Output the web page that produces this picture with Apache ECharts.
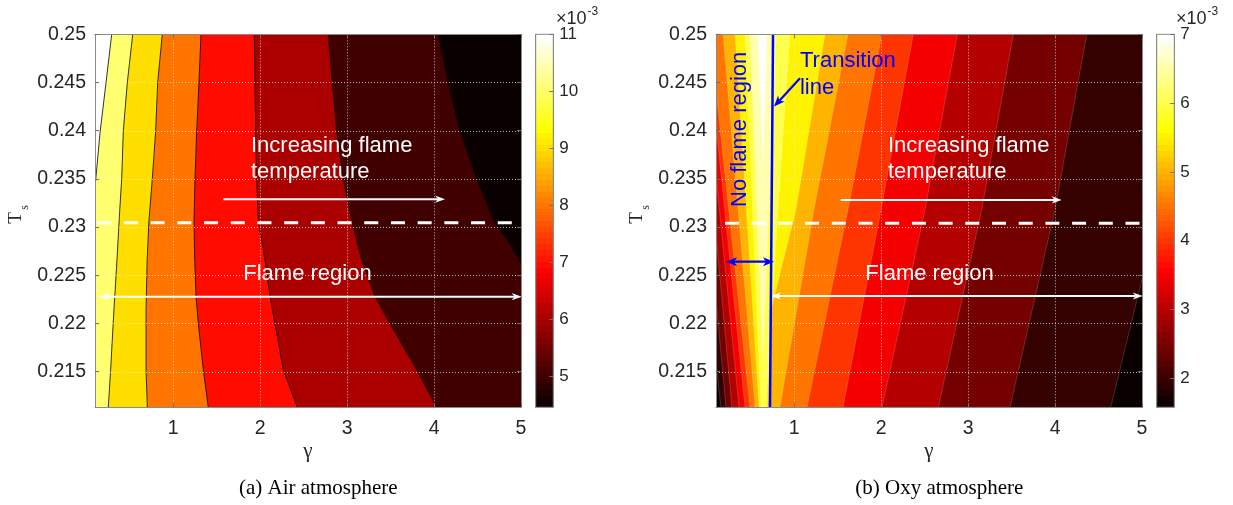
<!DOCTYPE html>
<html>
<head>
<meta charset="utf-8">
<title>Flame temperature contours</title>
<script src="https://cdn.jsdelivr.net/npm/echarts@6.0.0/dist/echarts.min.js"></script>
<style>
html,body{margin:0;padding:0;background:#ffffff;}
#chart{width:1233px;height:505px;}
</style>
</head>
<body>
<div id="chart"></div>
<script>
// ---------------- axes ----------------
const gammaRange = [0.1, 5];
const tsRange = [0.2113, 0.25];
const gammaTicks = [1, 2, 3, 4, 5];
const tsTicks = [0.215, 0.22, 0.225, 0.23, 0.235, 0.24, 0.245, 0.25];

// ---------------- (a) Air atmosphere ----------------
const airClim = [4.46, 11.0];
const airCbTicks = [5, 6, 7, 8, 9, 10, 11];
const airLevels = [5, 6, 7, 8, 9, 10, 11];
// contour lines [gamma, Ts], from top edge downwards
const airContour5 = [[4.049,0.25],[4.164,0.245],[4.298,0.24],[4.49,0.235],[4.69,0.2306],[4.873,0.2283],[5.0,0.2262],[5.05,0.2256]];
const airContour6 = [[2.783,0.25],[2.83,0.245],[2.88,0.24],[2.956,0.235],[3.053,0.2306],[3.168,0.2266],[3.321,0.2228],[3.493,0.22],[3.8,0.2152],[4.03,0.2113]];
const airContour7 = [[1.932,0.25],[1.94,0.245],[1.948,0.24],[1.96,0.235],[1.978,0.2306],[2.02,0.2285],[2.055,0.2266],[2.113,0.2228],[2.17,0.22],[2.266,0.2152],[2.427,0.2113]];
const airContour8 = [[1.319,0.25],[1.296,0.245],[1.27,0.24],[1.25,0.235],[1.239,0.2306],[1.247,0.2266],[1.262,0.2228],[1.288,0.22],[1.346,0.2152],[1.403,0.2113]];
const airContour9 = [[0.874,0.25],[0.821,0.245],[0.798,0.24],[0.759,0.235],[0.72,0.2306],[0.70,0.2266],[0.687,0.2214],[0.687,0.2152],[0.702,0.2113]];
const airContour10 = [[0.534,0.25],[0.472,0.245],[0.426,0.24],[0.407,0.235],[0.385,0.2318],[0.353,0.2266],[0.318,0.2214],[0.28,0.2152],[0.253,0.2113]];
const airContour11 = [[0.292,0.25],[0.227,0.245],[0.158,0.2398],[0.10,0.2341],[0.09,0.2335]];
const airContours = [airContour5, airContour6, airContour7, airContour8, airContour9, airContour10, airContour11];

// ---------------- (b) Oxy atmosphere ----------------
const oxyClim = [1.58, 7.0];
const oxyCbTicks = [2, 3, 4, 5, 6, 7];
const oxyLevels = [2.0, 2.5, 3.0, 3.5, 4.0, 4.5, 5.0, 5.5, 6.0, 6.5, 7.0];
// regions where the value exceeds each level [gamma, Ts]
const oxyRegion20 = [[-0.35,0.25],[0.158,0.2113],[4.64,0.2113],[5.69,0.25]];
const oxyRegion25 = [[-0.188,0.25],[0.215,0.2113],[3.482,0.2113],[3.999,0.2318],[4.364,0.25]];
const oxyRegion30 = [[-0.114,0.25],[0.284,0.2113],[2.657,0.2113],[3.156,0.2318],[3.52,0.25]];
const oxyRegion35 = [[-0.061,0.25],[0.365,0.2113],[2.009,0.2113],[2.504,0.2318],[2.875,0.25]];
const oxyRegion40 = [[-0.007,0.25],[0.434,0.2113],[1.561,0.2113],[1.998,0.2318],[2.369,0.25]];
const oxyRegion45 = [[0.031,0.25],[0.491,0.2113],[1.147,0.2113],[1.618,0.2318],[2.009,0.25]];
const oxyRegion50 = [[0.181,0.25],[0.549,0.2113],[0.836,0.2113],[1.227,0.2318],[1.618,0.25]];
const oxyRegion55 = [[0.319,0.25],[0.595,0.2113],[0.698,0.2113],[0.733,0.2214],[1.02,0.2318],[1.354,0.25]];
const oxyRegion60 = [[0.434,0.25],[0.618,0.2113],[0.675,0.2113],[0.813,0.2318],[0.951,0.25]];
const oxyRegion65 = [[0.491,0.25],[0.641,0.2164],[0.79,0.25]];
const oxyRegion70 = [[0.583,0.25],[0.641,0.2366],[0.687,0.25]];
const oxyRegions = [oxyRegion20, oxyRegion25, oxyRegion30, oxyRegion35, oxyRegion40, oxyRegion45, oxyRegion50, oxyRegion55, oxyRegion60, oxyRegion65, oxyRegion70];
const oxyTransitionLine = [[0.756,0.25],[0.721,0.2113]];

// ---------------- helpers ----------------
const SANS = '"Liberation Sans", Arial, Helvetica, sans-serif';
const SERIF = '"Liberation Serif", "Times New Roman", serif';

function hotIdxColor(i) {
  const r = Math.min(1, i / 24);
  const g = Math.max(0, Math.min(1, (i - 24) / 24));
  const b = Math.max(0, Math.min(1, (i - 48) / 16));
  return 'rgb(' + Math.round(r * 255) + ',' + Math.round(g * 255) + ',' + Math.round(b * 255) + ')';
}
function hotColor(v, clim) {
  const t = (v - clim[0]) / (clim[1] - clim[0]);
  const i = Math.max(1, Math.min(64, Math.floor(t * 64 + 1e-9) + 1));
  return hotIdxColor(i);
}
function hotGradientStops() {
  const stops = [];
  for (let i = 1; i <= 64; i++) {
    const c = hotIdxColor(i);
    stops.push({offset: (i - 1) / 64, color: c});
    stops.push({offset: i / 64, color: c});
  }
  return stops;
}
const LO = tsRange[0] - 0.01, HI = tsRange[1] + 0.01, XL = gammaRange[0] - 1, XR = gammaRange[1] + 1;
const basePoly = [[XL, LO], [XR, LO], [XR, HI], [XL, HI]];
function closeLeft(line) {
  const first = line[0], last = line[line.length - 1];
  return line.concat([[last[0], LO], [XL, LO], [XL, HI], [first[0], HI]]);
}

function fillSeries(xi, yi, polys, colors, stroke, lw) {
  return {
    type: 'custom', xAxisIndex: xi, yAxisIndex: yi, clip: true, silent: true, z: 2,
    data: polys.map(() => [gammaRange[0], tsRange[0]]),
    renderItem: (params, api) => {
      const pts = polys[params.dataIndex].map(p => api.coord(p));
      const style = {fill: colors[params.dataIndex]};
      if (stroke) { style.stroke = stroke; style.lineWidth = lw; } else { style.stroke = colors[params.dataIndex]; style.lineWidth = 0.3; }
      return {type: 'polygon', shape: {points: pts}, style: style};
    }
  };
}
function lineSeries(xi, yi, lines, color, lw) {
  return {
    type: 'custom', xAxisIndex: xi, yAxisIndex: yi, clip: true, silent: true, z: 3,
    data: lines.map(() => [gammaRange[0], tsRange[0]]),
    renderItem: (params, api) => ({
      type: 'polyline',
      shape: {points: lines[params.dataIndex].map(p => api.coord(p))},
      style: {stroke: color, lineWidth: lw, fill: 'none'}
    })
  };
}
function gridSeries(xi, yi) {
  return {
    type: 'custom', xAxisIndex: xi, yAxisIndex: yi, clip: true, silent: true, z: 3,
    data: [[gammaRange[0], tsRange[0]]],
    renderItem: (params, api) => {
      const ch = [];
      const st = {stroke: 'rgba(235,235,235,0.75)', lineWidth: 1, lineDash: [1, 2], fill: 'none'};
      gammaTicks.forEach(g => {
        const a = api.coord([g, tsRange[0]]), b = api.coord([g, tsRange[1]]);
        ch.push({type: 'line', shape: {x1: Math.round(a[0]) + 0.5, y1: a[1], x2: Math.round(b[0]) + 0.5, y2: b[1]}, style: st});
      });
      tsTicks.forEach(t => {
        const a = api.coord([gammaRange[0], t]), b = api.coord([gammaRange[1], t]);
        ch.push({type: 'line', shape: {x1: a[0], y1: Math.round(a[1]) + 0.5, x2: b[0], y2: Math.round(b[1]) + 0.5}, style: st});
      });
      return {type: 'group', children: ch};
    }
  };
}
function colorbarSeries(xi, yi, clim) {
  return {
    type: 'custom', xAxisIndex: xi, yAxisIndex: yi, silent: true, z: 2,
    data: [[0, clim[0]]],
    renderItem: (params, api) => {
      const p1 = api.coord([0, clim[0]]), p2 = api.coord([1, clim[1]]);
      return {
        type: 'rect',
        shape: {x: p1[0], y: p2[1], width: p2[0] - p1[0], height: p1[1] - p2[1]},
        style: {fill: {type: 'linear', x: 0, y: 1, x2: 0, y2: 0, colorStops: hotGradientStops()}, stroke: '#8a8a8a', lineWidth: 1}
      };
    }
  };
}
function arrow(api, a, b, o) {
  const p0 = api.coord(a), p1 = api.coord(b);
  const dx = p1[0] - p0[0], dy = p1[1] - p0[1], len = Math.hypot(dx, dy);
  const ux = dx / len, uy = dy / len, nx = -uy, ny = ux;
  const back = o.L - o.N;
  const s = o.both ? [p0[0] + ux * back, p0[1] + uy * back] : p0;
  const e = [p1[0] - ux * back, p1[1] - uy * back];
  const head = (t, vx, vy) => ({
    type: 'polygon',
    shape: {points: [
      [t[0], t[1]],
      [t[0] - vx * o.L + nx * o.W, t[1] - vy * o.L + ny * o.W],
      [t[0] - vx * (o.L - o.N), t[1] - vy * (o.L - o.N)],
      [t[0] - vx * o.L - nx * o.W, t[1] - vy * o.L - ny * o.W]
    ]},
    style: {fill: o.color}
  });
  const els = [{type: 'line', shape: {x1: s[0], y1: s[1], x2: e[0], y2: e[1]}, style: {stroke: o.color, lineWidth: o.width, fill: 'none'}}];
  els.push(head(p1, ux, uy));
  if (o.both) els.push(head(p0, -ux, -uy));
  return els;
}
function label(api, at, text, align, color, extra) {
  const p = api.coord(at);
  return Object.assign({
    type: 'text', x: p[0], y: p[1],
    style: {text: text, fill: color, fontSize: 22, fontFamily: SANS, align: align, verticalAlign: 'middle'}
  }, extra || {});
}
function dashed(api, a, b) {
  const p0 = api.coord(a), p1 = api.coord(b);
  return {type: 'line', shape: {x1: p0[0], y1: p0[1], x2: p1[0], y2: p1[1]}, style: {stroke: '#ffffff', lineWidth: 3, lineDash: [14, 12.7], fill: 'none'}};
}
function noteSeries(xi, yi, build) {
  return {
    type: 'custom', xAxisIndex: xi, yAxisIndex: yi, clip: false, silent: true, z: 4,
    data: [[gammaRange[0], tsRange[0]]],
    renderItem: (params, api) => ({type: 'group', children: build(api)})
  };
}
const whiteArrow = {color: '#ffffff', width: 2, L: 10, W: 3.6, N: 3};
const blueArrow = {color: '#0000ff', width: 2.2, L: 11, W: 4.5, N: 3};

// ---------------- axes ----------------
const AXC = '#8a8a8a';
const TXT = '#262626';
const tsFmt = v => String(parseFloat(Number(v).toFixed(4)));
function xAx(grid, pos, labels) {
  return {
    gridIndex: grid, type: 'value', position: pos, min: gammaRange[0], max: gammaRange[1], z: 6,
    axisLine: {show: true, onZero: false, lineStyle: {color: AXC, width: 1}},
    axisTick: {show: true, inside: true, length: 4, customValues: gammaTicks, lineStyle: {color: '#707070'}},
    axisLabel: {show: labels, customValues: gammaTicks, margin: 11, fontSize: 19.5, fontFamily: SANS, color: TXT},
    splitLine: {show: false}
  };
}
function yAx(grid, pos, labels) {
  return {
    gridIndex: grid, type: 'value', position: pos, min: tsRange[0], max: tsRange[1], z: 6,
    axisLine: {show: true, onZero: false, lineStyle: {color: AXC, width: 1}},
    axisTick: {show: true, inside: true, length: 4, customValues: tsTicks, lineStyle: {color: '#707070'}},
    axisLabel: {show: labels, customValues: tsTicks, margin: 9, fontSize: 19.5, fontFamily: SANS, color: TXT, formatter: tsFmt},
    splitLine: {show: false}
  };
}
function cbY(grid, clim, ticks, pos, labels) {
  return {
    gridIndex: grid, type: 'value', position: pos, min: clim[0], max: clim[1], z: 6,
    axisLine: {show: true, onZero: false, lineStyle: {color: AXC, width: 1}},
    axisTick: {show: labels, inside: true, length: 4, customValues: ticks, lineStyle: {color: '#707070'}},
    axisLabel: {show: labels, customValues: ticks, margin: 6, fontSize: 17, fontFamily: SANS, color: TXT},
    splitLine: {show: false}
  };
}
function hiddenX(grid) {
  return {gridIndex: grid, type: 'value', min: 0, max: 1, show: false};
}

const airPolys = [basePoly].concat(airContours.map(closeLeft));
const airColors = [hotColor(airClim[0], airClim)].concat(airLevels.map(v => hotColor(v, airClim)));
const oxyPolys = [basePoly].concat(oxyRegions);
const oxyColors = [hotColor(oxyClim[0], oxyClim)].concat(oxyLevels.map(v => hotColor(v, oxyClim)));

const PT = 34.3, PH = 373;
const option = {
  animation: false,
  backgroundColor: '#ffffff',
  grid: [
    {left: 95, top: PT, width: 426, height: PH},
    {left: 716, top: PT, width: 426, height: PH},
    {left: 535.7, top: PT, width: 17.6, height: PH},
    {left: 1156.7, top: PT, width: 17.6, height: PH}
  ],
  xAxis: [xAx(0, 'bottom', true), xAx(0, 'top', false), xAx(1, 'bottom', true), xAx(1, 'top', false), hiddenX(2), hiddenX(3)],
  yAxis: [
    yAx(0, 'left', true), yAx(0, 'right', false), yAx(1, 'left', true), yAx(1, 'right', false),
    cbY(2, airClim, airCbTicks, 'right', true), cbY(2, airClim, airCbTicks, 'left', false),
    cbY(3, oxyClim, oxyCbTicks, 'right', true), cbY(3, oxyClim, oxyCbTicks, 'left', false)
  ],
  series: [
    fillSeries(0, 0, airPolys, airColors, null, 0),
    lineSeries(0, 0, airContours, '#000000', 0.8),
    gridSeries(0, 0),
    noteSeries(0, 0, api => [].concat(
      [dashed(api, [0.126, 0.23046], [5.0, 0.23046])],
      [label(api, [1.894, 0.23843], 'Increasing flame', 'left', '#ffffff'),
       label(api, [1.894, 0.23568], 'temperature', 'left', '#ffffff')],
      arrow(api, [1.576, 0.23289], [4.126, 0.23289], Object.assign({both: false}, whiteArrow)),
      [label(api, [2.544, 0.22514], 'Flame region', 'center', '#ffffff')],
      arrow(api, [0.149, 0.22278], [5.008, 0.22278], Object.assign({both: true}, whiteArrow))
    )),
    fillSeries(2, 2, oxyPolys, oxyColors, 'rgba(255,255,255,0.28)', 0.6),
    gridSeries(2, 2),
    noteSeries(2, 2, api => [].concat(
      [dashed(api, [0.2035, 0.2304], [5.0, 0.2304])],
      [label(api, [2.078, 0.23843], 'Increasing flame', 'left', '#ffffff'),
       label(api, [2.078, 0.23568], 'temperature', 'left', '#ffffff')],
      arrow(api, [1.534, 0.23282], [4.076, 0.23282], Object.assign({both: false}, whiteArrow)),
      [label(api, [2.556, 0.22514], 'Flame region', 'center', '#ffffff')],
      arrow(api, [0.729, 0.22285], [5.008, 0.22285], Object.assign({both: true}, whiteArrow)),
      [{type: 'polyline', shape: {points: oxyTransitionLine.map(p => api.coord(p))}, style: {stroke: '#0000ff', lineWidth: 2.5, fill: 'none'}}],
      [label(api, [1.066, 0.24728], 'Transition', 'left', '#0000ff'),
       label(api, [1.066, 0.2444], 'line', 'left', '#0000ff'),
       label(api, [0.376, 0.24014], 'No flame region', 'center', '#0000ff', {rotation: Math.PI / 2})],
      arrow(api, [1.066, 0.24545], [0.767, 0.2425], Object.assign({both: false}, blueArrow)),
      arrow(api, [0.215, 0.22641], [0.767, 0.22641], Object.assign({both: true}, blueArrow))
    )),
    colorbarSeries(4, 4, airClim),
    colorbarSeries(5, 6, oxyClim)
  ],
  graphic: [
    {type: 'text', x: 308, y: 451, style: {text: 'γ', fontSize: 21, fontFamily: SERIF, fill: TXT, align: 'center', verticalAlign: 'middle'}},
    {type: 'text', x: 929, y: 451, style: {text: 'γ', fontSize: 21, fontFamily: SERIF, fill: TXT, align: 'center', verticalAlign: 'middle'}},
    {type: 'text', x: 16.2, y: 218, rotation: Math.PI / 2, style: {text: 'T', fontSize: 19, fontFamily: SERIF, fill: TXT, align: 'center', verticalAlign: 'middle'}},
    {type: 'text', x: 24.5, y: 207.5, rotation: Math.PI / 2, style: {text: 's', fontSize: 12, fontFamily: SERIF, fill: TXT, align: 'center', verticalAlign: 'middle'}},
    {type: 'text', x: 637.2, y: 218, rotation: Math.PI / 2, style: {text: 'T', fontSize: 19, fontFamily: SERIF, fill: TXT, align: 'center', verticalAlign: 'middle'}},
    {type: 'text', x: 645.5, y: 207.5, rotation: Math.PI / 2, style: {text: 's', fontSize: 12, fontFamily: SERIF, fill: TXT, align: 'center', verticalAlign: 'middle'}},
    {type: 'text', x: 318.3, y: 488.3, style: {text: '(a) Air atmosphere', fontSize: 21, fontFamily: SERIF, fill: '#000000', align: 'center', verticalAlign: 'middle'}},
    {type: 'text', x: 939.3, y: 488.3, style: {text: '(b) Oxy atmosphere', fontSize: 21, fontFamily: SERIF, fill: '#000000', align: 'center', verticalAlign: 'middle'}},
    {type: 'text', x: 556, y: 19.5, style: {text: '×10', fontSize: 18, fontFamily: SANS, fill: TXT, align: 'left', verticalAlign: 'middle'}},
    {type: 'text', x: 587.5, y: 12, style: {text: '-3', fontSize: 12, fontFamily: SANS, fill: TXT, align: 'left', verticalAlign: 'middle'}},
    {type: 'text', x: 1176, y: 19.5, style: {text: '×10', fontSize: 18, fontFamily: SANS, fill: TXT, align: 'left', verticalAlign: 'middle'}},
    {type: 'text', x: 1207.5, y: 12, style: {text: '-3', fontSize: 12, fontFamily: SANS, fill: TXT, align: 'left', verticalAlign: 'middle'}}
  ]
};

const chart = echarts.init(document.getElementById('chart'), null, {renderer: 'canvas'});
chart.setOption(option);
</script>
</body>
</html>
